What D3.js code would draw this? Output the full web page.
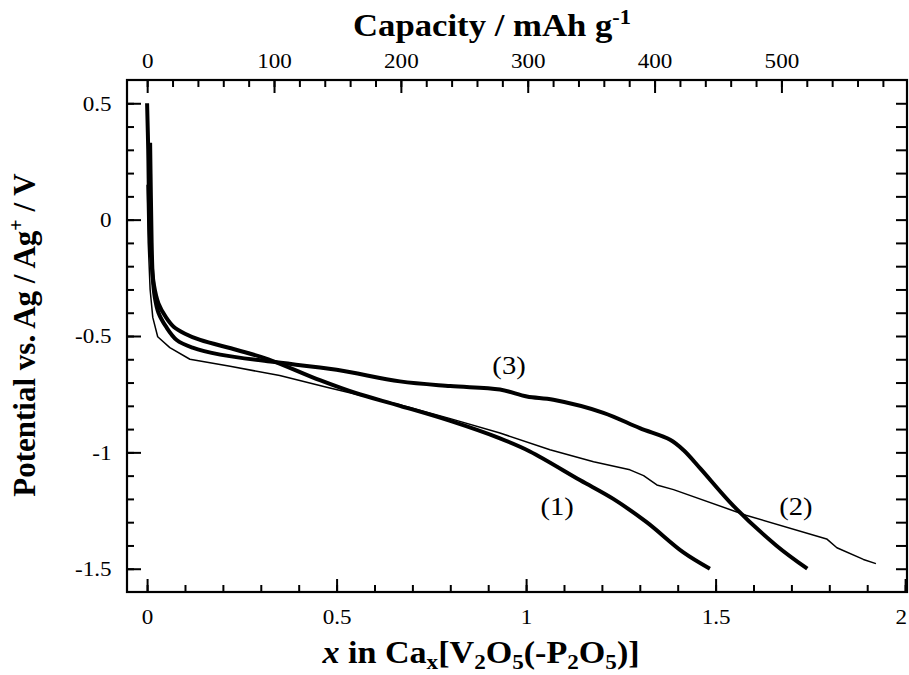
<!DOCTYPE html>
<html>
<head>
<meta charset="utf-8">
<script src="https://cdn.jsdelivr.net/npm/d3@7"></script>
<style>
  body { margin: 0; background: #fff; }
  svg text { font-family: "Liberation Serif", "Times New Roman", serif; fill: #000; }
  .axis path { display: none; }
  .axis line { stroke: #000; stroke-width: 2; }
  .axis text { font-size: 21px; }
</style>
</head>
<body>
<div id="chart"></div>
<script>
// x in Cax[V2O5(-P2O5)] vs potential (V vs Ag/Ag+)
var curve1 = [[0.0, 0.50], [0.003, 0.30], [0.006, 0.0], [0.01, -0.15], [0.018, -0.28], [0.03, -0.36],
  [0.05, -0.42], [0.07, -0.46], [0.10, -0.49], [0.14, -0.517], [0.237, -0.56], [0.32, -0.60],
  [0.456, -0.69], [0.55, -0.745], [0.667, -0.80], [0.80, -0.865], [0.931, -0.94], [1.01, -0.996],
  [1.143, -1.12], [1.23, -1.20], [1.318, -1.30], [1.415, -1.43], [1.485, -1.50]];
var curve2 = [[0.0, 0.15], [0.003, -0.10], [0.008, -0.30], [0.015, -0.42], [0.028, -0.503], [0.06, -0.55],
  [0.113, -0.60], [0.219, -0.63], [0.35, -0.67], [0.474, -0.72], [0.667, -0.795], [0.80, -0.855],
  [0.931, -0.917], [1.063, -0.989], [1.178, -1.04], [1.274, -1.075], [1.31, -1.10], [1.345, -1.14],
  [1.389, -1.16], [1.58, -1.27], [1.793, -1.372], [1.82, -1.41], [1.89, -1.46], [1.923, -1.478]];
var curve3 = [[0.008, 0.33], [0.01, 0.10], [0.012, -0.10], [0.015, -0.25], [0.02, -0.33], [0.03, -0.40],
  [0.05, -0.46], [0.078, -0.517], [0.12, -0.55], [0.193, -0.58], [0.325, -0.61], [0.50, -0.645],
  [0.667, -0.695], [0.80, -0.715], [0.931, -0.73], [1.002, -0.76], [1.072, -0.774], [1.204, -0.83],
  [1.30, -0.896], [1.38, -0.946], [1.415, -0.99], [1.46, -1.07], [1.547, -1.23], [1.66, -1.40], [1.742, -1.50]];

var curveLabels = [{ text: "(1)", x: 1.082, v: -1.27 }, { text: "(2)", x: 1.712, v: -1.27 }, { text: "(3)", x: 0.955, v: -0.665 }];

var xTicks = [0, 0.5, 1, 1.5, 2];
var yTicks = [0.5, 0, -0.5, -1, -1.5];
var capTicks = [0, 100, 200, 300, 400, 500];

var width = 909, height = 675;
var margin = { top: 80, right: 2, bottom: 83, left: 127 };
var w = width - margin.left - margin.right;
var h = height - margin.top - margin.bottom;
var stretch = "scale(1.1,1)";

var svg = d3.select("#chart").append("svg")
  .attr("width", width)
  .attr("height", height);

var g = svg.append("g")
  .attr("transform", "translate(" + margin.left + "," + margin.top + ")");

var x = d3.scaleLinear().domain([-0.053, 2.005]).range([0, w]);
var y = d3.scaleLinear().domain([-1.6, 0.6]).range([h, 0]);
var cap = d3.scaleLinear().domain([-15.9, 599]).range([0, w]);

function fmt(d) { return String(d); }

// bottom axis
g.append("g").attr("class", "axis")
  .attr("transform", "translate(0," + h + ")")
  .call(d3.axisBottom(x).tickValues(d3.range(0, 2.001, 0.1)).tickSize(-7).tickFormat(""));
var xAxisG = g.append("g").attr("class", "axis")
  .attr("transform", "translate(0," + h + ")")
  .call(d3.axisBottom(x).tickValues(xTicks).tickSize(-13).tickPadding(17).tickFormat(fmt));
xAxisG.selectAll("text").attr("transform", stretch);
xAxisG.selectAll("text").filter(function(d) { return d === 2; }).attr("dx", -4);

// left axis
g.append("g").attr("class", "axis")
  .call(d3.axisLeft(y).tickValues(d3.range(-1.5, 0.51, 0.1)).tickSize(-7).tickFormat(""));
g.append("g").attr("class", "axis")
  .call(d3.axisLeft(y).tickValues(yTicks).tickSize(-14).tickPadding(14).tickFormat(fmt))
  .selectAll("text").attr("transform", stretch);

// right axis
g.append("g").attr("class", "axis")
  .attr("transform", "translate(" + w + ",0)")
  .call(d3.axisRight(y).tickValues(d3.range(-1.5, 0.51, 0.1)).tickSize(-11).tickFormat(""));

// top axis (capacity)
g.append("g").attr("class", "axis")
  .call(d3.axisTop(cap).tickValues(d3.range(0, 581, 20)).tickSize(-7).tickFormat(""));
g.append("g").attr("class", "axis")
  .call(d3.axisTop(cap).tickValues(capTicks).tickSize(-13).tickPadding(12).tickFormat(fmt))
  .selectAll("text").attr("transform", stretch);

// frame
g.append("rect")
  .attr("width", w).attr("height", h)
  .attr("fill", "none").attr("stroke", "#000").attr("stroke-width", 2.2);

var smooth = d3.line()
  .x(function(d) { return x(d[0]); })
  .y(function(d) { return y(d[1]); })
  .curve(d3.curveCatmullRom.alpha(0.5));
var straight = d3.line()
  .x(function(d) { return x(d[0]); })
  .y(function(d) { return y(d[1]); });

g.append("path").datum(curve2)
  .attr("d", straight)
  .attr("fill", "none").attr("stroke", "#000").attr("stroke-width", 1.5).attr("stroke-linejoin", "round");
g.append("path").datum(curve1)
  .attr("d", smooth)
  .attr("fill", "none").attr("stroke", "#000").attr("stroke-width", 4).attr("stroke-linejoin", "round");
g.append("path").datum(curve3)
  .attr("d", smooth)
  .attr("fill", "none").attr("stroke", "#000").attr("stroke-width", 4).attr("stroke-linejoin", "round");

g.selectAll(".clabel").data(curveLabels).enter().append("text")
  .attr("class", "clabel")
  .attr("transform", function(d) { return "translate(" + x(d.x) + "," + y(d.v) + ") " + stretch; })
  .attr("text-anchor", "middle")
  .style("font-size", "26px")
  .text(function(d) { return d.text; });

// titles
var capTitle = svg.append("text")
  .attr("transform", "translate(492,36) scale(1.12,1)")
  .attr("text-anchor", "middle")
  .style("font-size", "31px").style("font-weight", "bold");
capTitle.append("tspan").text("Capacity / mAh g");
capTitle.append("tspan").attr("dy", -12).style("font-size", "20px").text("-1");

var ylab = svg.append("text")
  .attr("transform", "translate(35,335) rotate(-90)")
  .attr("text-anchor", "middle")
  .style("font-size", "31px").style("font-weight", "bold");
ylab.append("tspan").text("Potential vs. Ag / Ag");
ylab.append("tspan").attr("dy", -12).style("font-size", "20px").text("+");
ylab.append("tspan").attr("dy", 12).text(" / V");

var xlab = svg.append("text")
  .attr("transform", "translate(481,663) scale(1.1,1)")
  .attr("text-anchor", "middle")
  .style("font-size", "31px").style("font-weight", "bold");
xlab.append("tspan").style("font-style", "italic").text("x");
xlab.append("tspan").text(" in Ca");
xlab.append("tspan").attr("dy", 6).style("font-size", "21px").text("x");
xlab.append("tspan").attr("dy", -6).text("[V");
xlab.append("tspan").attr("dy", 6).style("font-size", "21px").text("2");
xlab.append("tspan").attr("dy", -6).text("O");
xlab.append("tspan").attr("dy", 6).style("font-size", "21px").text("5");
xlab.append("tspan").attr("dy", -6).text("(-P");
xlab.append("tspan").attr("dy", 6).style("font-size", "21px").text("2");
xlab.append("tspan").attr("dy", -6).text("O");
xlab.append("tspan").attr("dy", 6).style("font-size", "21px").text("5");
xlab.append("tspan").attr("dy", -6).text(")]");
</script>
</body>
</html>
